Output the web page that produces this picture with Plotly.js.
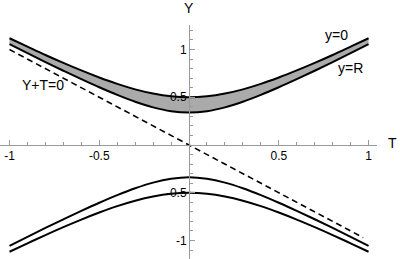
<!DOCTYPE html>
<html>
<head>
<meta charset="utf-8">
<script src="https://cdn.plot.ly/plotly-3.0.1.min.js"></script>
<style>html,body{margin:0;padding:0;background:#fff;}#chart{width:400px;height:259px;}</style>
</head>
<body>
<div id="chart"></div>
<script>
// Data
const T = [-1,-0.9,-0.8,-0.7,-0.6,-0.5,-0.4,-0.3,-0.2,-0.1,0,0.1,0.2,0.3,0.4,0.5,0.6,0.7,0.8,0.9,1];
const upperY0 = [1.118,1.030,0.943,0.860,0.781,0.707,0.640,0.583,0.539,0.510,0.500,0.510,0.539,0.583,0.640,0.707,0.781,0.860,0.943,1.030,1.118];
const upperYR = [1.056,0.962,0.869,0.778,0.690,0.605,0.525,0.453,0.394,0.354,0.340,0.354,0.394,0.453,0.525,0.605,0.690,0.778,0.869,0.962,1.056];
const lowerInner = [-1.056,-0.962,-0.869,-0.778,-0.690,-0.605,-0.525,-0.453,-0.394,-0.354,-0.338,-0.354,-0.394,-0.453,-0.525,-0.605,-0.690,-0.778,-0.869,-0.962,-1.056];
const lowerOuter = [-1.118,-1.030,-0.943,-0.860,-0.781,-0.707,-0.640,-0.583,-0.539,-0.510,-0.500,-0.510,-0.539,-0.583,-0.640,-0.707,-0.781,-0.860,-0.943,-1.030,-1.118];
const dashT = [-1, 0.97];
const dashY = [1, -0.97];
const xTickVals = [-1, -0.5, 0.5, 1];
const xTickText = ["-1", "-0.5", "0.5", "1"];
const yTickVals = [-1, -0.5, 0.5, 1];
const yTickText = ["-1", "-0.5", "0.5", "1"];

const xRange = [-1.053, 1.047];
const yRange = [-1.194, 1.257];
const W = 400, H = 259;
const xDomEnd = 377 / W;
const yDomEnd = (H - 25) / H;

const lineStyle = {color: '#000', width: 2, shape: 'spline', smoothing: 1};
const traces = [
  {x: T, y: upperYR, mode: 'lines', line: lineStyle, hoverinfo: 'skip'},
  {x: T, y: upperY0, mode: 'lines', line: lineStyle, fill: 'tonexty', fillcolor: '#aaaaaa', hoverinfo: 'skip'},
  {x: T, y: lowerInner, mode: 'lines', line: lineStyle, hoverinfo: 'skip'},
  {x: T, y: lowerOuter, mode: 'lines', line: lineStyle, hoverinfo: 'skip'},
  {x: dashT, y: dashY, mode: 'lines', line: {color: '#000', width: 1.6, dash: '6px,4px'}, hoverinfo: 'skip'}
];

// positions of the crossing axes in paper coordinates
const xAxisPos = yDomEnd * (0 - yRange[0]) / (yRange[1] - yRange[0]);
const yAxisPos = xDomEnd * (0 - xRange[0]) / (xRange[1] - xRange[0]);

const tickFont = {family: 'Liberation Sans, Arial, sans-serif', size: 12, color: '#000'};
const labFont = {family: 'Liberation Sans, Arial, sans-serif', size: 14, color: '#000'};

const layout = {
  width: W, height: H,
  margin: {l: 0, r: 0, t: 0, b: 0, pad: 0},
  paper_bgcolor: '#fff', plot_bgcolor: 'rgba(0,0,0,0)',
  showlegend: false,
  xaxis: {
    domain: [0, xDomEnd], range: xRange, anchor: 'free', position: xAxisPos,
    showgrid: false, zeroline: false, showline: true, linecolor: '#999', linewidth: 1,
    tickmode: 'array', tickvals: xTickVals, ticktext: xTickText,
    ticks: 'inside', ticklen: 5, tickcolor: '#999', tickwidth: 1,
    minor: {tickmode: 'linear', tick0: 0, dtick: 0.1, ticks: 'inside', ticklen: 3, tickcolor: '#999', tickwidth: 1},
    tickfont: tickFont, fixedrange: true
  },
  yaxis: {
    domain: [0, yDomEnd], range: yRange, anchor: 'free', position: yAxisPos,
    showgrid: false, zeroline: false, showline: true, linecolor: '#999', linewidth: 1,
    tickmode: 'array', tickvals: yTickVals, ticktext: yTickText,
    ticks: 'inside', ticklen: 5, tickcolor: '#999', tickwidth: 1,
    minor: {tickmode: 'linear', tick0: 0, dtick: 0.1, ticks: 'inside', ticklen: 3, tickcolor: '#999', tickwidth: 1},
    tickfont: tickFont, fixedrange: true
  },
  annotations: [
    {text: 'Y', xref: 'paper', yref: 'paper', x: yAxisPos, y: (H - 8) / H, showarrow: false, font: labFont, xanchor: 'center', yanchor: 'middle'},
    {text: 'T', xref: 'paper', yref: 'paper', x: 392 / W, y: (H - 143) / H, showarrow: false, font: labFont, xanchor: 'center', yanchor: 'middle'},
    {text: 'y=0', xref: 'x', yref: 'y', x: 0.824, y: 1.152, showarrow: false, font: labFont},
    {text: 'y=R', xref: 'x', yref: 'y', x: 0.897, y: 0.806, showarrow: false, font: labFont},
    {text: 'Y+T=0', xref: 'x', yref: 'y', x: -0.813, y: 0.628, showarrow: false, font: labFont}
  ]
};

Plotly.newPlot('chart', traces, layout, {staticPlot: true, displayModeBar: false});
</script>
</body>
</html>
